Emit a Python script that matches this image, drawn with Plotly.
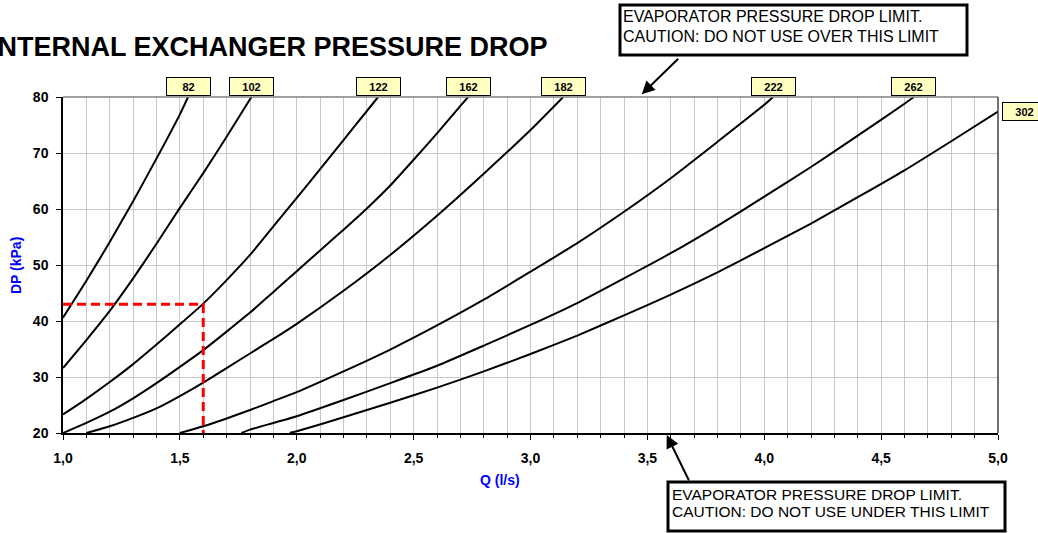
import plotly.graph_objects as go

# Q (l/s) / DP (kPa) points
models = ["82", "102", "122", "162", "182", "222", "262", "302"]

q_82 = [1.0, 1.1, 1.2, 1.3, 1.4, 1.5, 1.535]
dp_82 = [40.6, 47.2, 54.1, 61.4, 69.0, 76.9, 80.0]

q_102 = [1.0, 1.1, 1.2, 1.3, 1.4, 1.5, 1.6, 1.7, 1.806]
dp_102 = [31.6, 36.6, 41.8, 47.6, 53.8, 60.2, 66.4, 72.9, 80.0]

q_122 = [1.0, 1.1, 1.2, 1.3, 1.4, 1.5, 1.6, 1.7, 1.8, 1.9, 2.0, 2.1, 2.2, 2.3, 2.348]
dp_122 = [23.3, 26.1, 29.1, 32.3, 35.8, 39.4, 43.1, 47.3, 51.8, 56.9, 62.0, 67.1, 72.3, 77.5, 80.0]

q_162 = [1.0, 1.1, 1.2, 1.3, 1.4, 1.5, 1.6, 1.7, 1.8, 1.9, 2.0, 2.1, 2.2, 2.3, 2.4, 2.5, 2.6, 2.7, 2.733]
dp_162 = [20.0, 21.8, 23.8, 26.2, 28.9, 31.8, 34.8, 38.1, 41.5, 45.2, 48.9, 52.6, 56.3, 60.1, 64.2, 68.8, 73.5, 78.4, 80.0]

q_182 = [1.1, 1.2, 1.3, 1.4, 1.5, 1.6, 1.7, 1.8, 1.9, 2.0, 2.2, 2.4, 2.6, 2.8, 3.0, 3.14]
dp_182 = [20.0, 21.2, 22.7, 24.4, 26.6, 29.0, 31.6, 34.2, 36.8, 39.5, 45.4, 51.8, 58.8, 66.3, 74.1, 80.0]

q_222 = [1.5, 1.6, 1.7, 1.8, 1.9, 2.0, 2.2, 2.4, 2.6, 2.8, 3.0, 3.2, 3.4, 3.6, 3.8, 4.0, 4.038]
dp_222 = [20.0, 21.2, 22.6, 24.1, 25.7, 27.3, 31.0, 34.9, 39.2, 43.8, 48.8, 53.9, 59.5, 65.5, 72.0, 78.6, 80.0]

q_262 = [1.763, 1.8, 1.9, 2.0, 2.2, 2.4, 2.6, 2.8, 3.0, 3.2, 3.4, 3.6, 3.8, 4.0, 4.2, 4.4, 4.6, 4.64]
dp_262 = [20.0, 20.6, 21.8, 23.0, 25.9, 28.9, 32.0, 35.6, 39.3, 43.2, 47.6, 52.1, 57.0, 62.2, 67.5, 73.1, 78.8, 80.0]

q_302 = [1.97, 2.0, 2.2, 2.4, 2.6, 2.8, 3.0, 3.2, 3.4, 3.6, 3.8, 4.0, 4.2, 4.4, 4.6, 4.8, 5.0]
dp_302 = [20.0, 20.3, 22.8, 25.4, 28.1, 31.0, 34.1, 37.4, 41.0, 44.7, 48.7, 53.0, 57.4, 62.1, 66.9, 72.1, 77.4]

# example reading (red dashed)
ex_q = [1.0, 1.6, 1.6]
ex_dp = [43, 43, 20]

x_ticks = [1.0, 1.5, 2.0, 2.5, 3.0, 3.5, 4.0, 4.5, 5.0]
y_ticks = [20, 30, 40, 50, 60, 70, 80]

curves = [(q_82, dp_82), (q_102, dp_102), (q_122, dp_122), (q_162, dp_162),
          (q_182, dp_182), (q_222, dp_222), (q_262, dp_262), (q_302, dp_302)]

W, H = 1038, 533
L, R, T, B = 63, 40, 97, 100
PW, PH = W - L - R, H - T - B


def px(x):
    return (x - L) / PW


def py(y):
    return (H - B - y) / PH


FONT = "Liberation Sans, Arial, sans-serif"

fig = go.Figure()

for q, dp in curves:
    fig.add_trace(go.Scatter(x=q, y=dp, mode="lines", hoverinfo="skip",
                             line=dict(color="black", width=2, shape="spline", smoothing=0.5)))

fig.add_trace(go.Scatter(x=ex_q, y=ex_dp, mode="lines", hoverinfo="skip",
                         line=dict(color="#FF0000", width=3, dash="9px,5px")))

annotations = []

# model labels at curve ends
for name, (q, dp) in zip(models, curves):
    lab = dict(text="<b>%s</b>" % name, x=q[-1], y=dp[-1], xref="x", yref="y",
               showarrow=False, bgcolor="#FFFFC0", bordercolor="black", borderwidth=1,
               borderpad=1, width=41, height=15,
               font=dict(family=FONT, size=11, color="black"))
    if q[-1] >= 4.99:
        lab.update(xanchor="left", yanchor="middle", xshift=4)
    else:
        lab.update(y=80, xanchor="center", yanchor="bottom", yshift=1)
    annotations.append(lab)

# title, the first letter is cut off on the left edge as in the source
annotations.append(dict(text="<b>INTERNAL EXCHANGER PRESSURE DROP</b>", x=px(-12), y=py(47),
                        xref="paper", yref="paper", xanchor="left", yanchor="middle",
                        showarrow=False, font=dict(family=FONT, size=27, color="black")))

# axis titles
annotations.append(dict(text="<b>DP (kPa)</b>", x=px(16), y=py(266), xref="paper", yref="paper",
                        xanchor="center", yanchor="middle", textangle=-90, showarrow=False,
                        font=dict(family=FONT, size=14, color="#0000FF")))
annotations.append(dict(text="<b>Q (l/s)</b>", x=px(500), y=py(480), xref="paper", yref="paper",
                        xanchor="center", yanchor="middle", showarrow=False,
                        font=dict(family=FONT, size=14, color="#0000FF")))

# limit notes
notes = [
    ("EVAPORATOR PRESSURE DROP LIMIT.", 621, 16.5, 16),
    ("CAUTION: DO NOT USE OVER THIS LIMIT", 621, 36.5, 16),
    ("EVAPORATOR PRESSURE DROP LIMIT.", 670, 494.5, 15.5),
    ("CAUTION: DO NOT USE UNDER THIS LIMIT", 670, 511.5, 15.5),
]
for txt, x0, yc, fs in notes:
    annotations.append(dict(text=txt, x=px(x0), y=py(yc), xref="paper", yref="paper",
                            xanchor="left", yanchor="middle", showarrow=False,
                            font=dict(family=FONT, size=fs, color="black")))

# arrows pointing at the limits (tips just outside the plot frame)
annotations.append(dict(text="", x=px(641.7), y=py(94.3), xref="paper", yref="paper",
                        ax=38, ay=-37, showarrow=True, arrowhead=2, arrowsize=1.3,
                        arrowwidth=2, arrowcolor="black", standoff=0))
annotations.append(dict(text="", x=px(666.7), y=py(435), xref="paper", yref="paper",
                        ax=23, ay=47, showarrow=True, arrowhead=2, arrowsize=1.3,
                        arrowwidth=2, arrowcolor="black", standoff=0))

shapes = [
    # top and right frame
    dict(type="line", xref="paper", yref="paper", x0=0, x1=1, y0=1, y1=1,
         line=dict(color="#808080", width=1.5)),
    dict(type="line", xref="paper", yref="paper", x0=1, x1=1, y0=0, y1=1,
         line=dict(color="#404040", width=1.5)),
    # note boxes
    dict(type="rect", xref="paper", yref="paper", x0=px(620), x1=px(967), y0=py(55), y1=py(5),
         line=dict(color="black", width=3), layer="below"),
    dict(type="rect", xref="paper", yref="paper", x0=px(668), x1=px(1005), y0=py(531), y1=py(482),
         line=dict(color="black", width=3), layer="below"),
]

fig.update_layout(
    width=W, height=H,
    margin=dict(l=L, r=R, t=T, b=B),
    paper_bgcolor="white", plot_bgcolor="white",
    showlegend=False,
    separators=",.",
    annotations=annotations,
    shapes=shapes,
    font=dict(family=FONT, color="black"),
)

fig.update_xaxes(
    range=[1, 5], tickvals=x_ticks, tickformat=".1f",
    showgrid=True, gridcolor="#C8C8C8", gridwidth=1,
    ticks="outside", ticklen=5, tickcolor="black", tickwidth=1,
    showline=True, linecolor="black", linewidth=1.5,
    minor=dict(dtick=0.1, showgrid=True, gridcolor="#C8C8C8", gridwidth=1,
               ticks="outside", ticklen=3, tickcolor="black"),
    tickfont=dict(family=FONT, size=14, color="black", weight="bold"),
    ticklabelstandoff=6, zeroline=False,
)
fig.update_yaxes(
    range=[20, 80], tickvals=y_ticks,
    showgrid=True, gridcolor="#C8C8C8", gridwidth=1,
    ticks="outside", ticklen=5, tickcolor="black", tickwidth=1,
    showline=True, linecolor="black", linewidth=1.5,
    tickfont=dict(family=FONT, size=14, color="black", weight="bold"),
    ticklabelstandoff=5, zeroline=False,
)

# page body margin removed so the figure sits at the window corner
fig.write_html("out.html", config={"displayModeBar": False},
               post_script="document.body.style.margin = '0';")
